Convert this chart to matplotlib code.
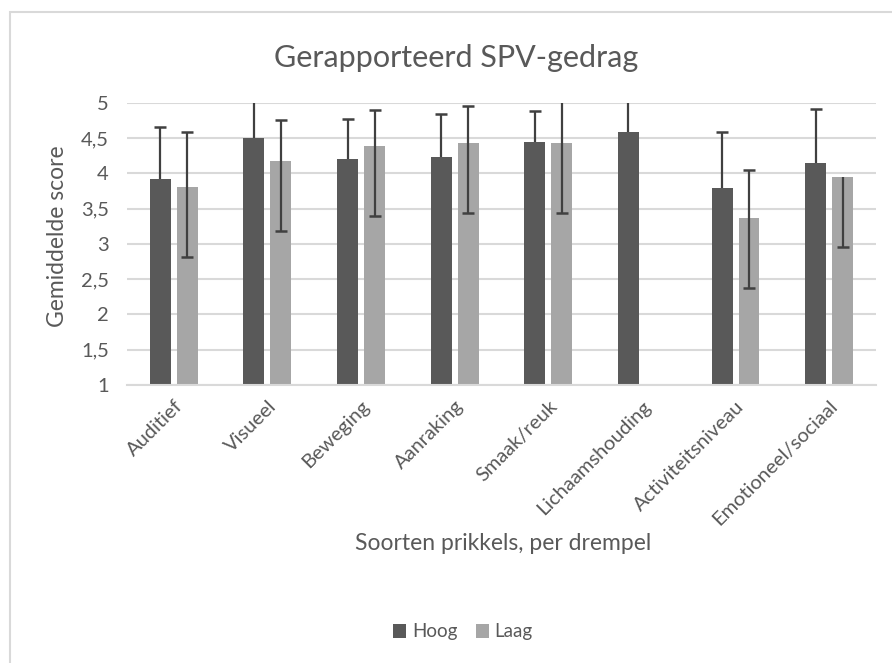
import numpy as np
import matplotlib.pyplot as plt
from matplotlib.patches import Rectangle

# categories and values
categories = ['Auditief', 'Visueel', 'Beweging', 'Aanraking', 'Smaak/reuk',
              'Lichaamshouding', 'Activiteitsniveau', 'Emotioneel/sociaal']
hoog = [3.92, 4.50, 4.21, 4.23, 4.45, 4.58, 3.79, 4.14]
laag = [3.81, 4.18, 4.39, 4.43, 4.43, np.nan, 3.37, 3.95]
hoog_err_up = [0.74, 0.60, 0.56, 0.61, 0.44, 0.60, 0.80, 0.77]
hoog_err_down = [0, 0, 0, 0, 0, 0, 0, 0]
laag_err_up = [0.77, 0.58, 0.51, 0.52, 0.60, 0.0, 0.68, 0.0]
laag_err_down = [1.00, 1.00, 1.00, 0.99, 0.99, 0.0, 1.00, 0.99]
yticks = [1, 1.5, 2, 2.5, 3, 3.5, 4, 4.5, 5]

txt = '#595959'
plt.rcParams['font.family'] = ['Lato', 'DejaVu Sans']

fig = plt.figure(figsize=(8.92, 6.63), dpi=100)
# chart border
fig.patches.append(Rectangle((0.011, -0.05), 1.2, 1.032, transform=fig.transFigure,
                             fill=False, edgecolor='#D9D9D9', linewidth=1.5))

ax = fig.add_axes([0.1424, 0.4193, 0.8396, 0.4256])
x = np.arange(len(categories))
w = 0.224
off = 0.144

ax.bar(x - off, hoog, w, color='#595959', zorder=2, label='Hoog')
ax.bar(x + off, laag, w, color='#A6A6A6', zorder=2, label='Laag')


def draw_err(xs, ys, up, down):
    # error bars drawn by hand so a zero-length side gets no cap
    ys = np.array(ys, dtype=float)
    up = np.array(up, dtype=float)
    down = np.array(down, dtype=float)
    ok = ~np.isnan(ys)
    xs, ys, up, down = xs[ok], ys[ok], up[ok], down[ok]
    ax.vlines(xs, ys - down, ys + up, color='#404040', linewidth=1.6, zorder=3)
    for sel, yy in [(up > 0, ys + up), (down > 0, ys - down)]:
        ax.plot(xs[sel], yy[sel], linestyle='none', marker='_', markersize=8,
                markeredgewidth=1.8, color='#404040', zorder=3)


draw_err(x - off, hoog, hoog_err_up, hoog_err_down)
draw_err(x + off, laag, laag_err_up, laag_err_down)

ax.set_xlim(-0.5, len(categories) - 0.5)
ax.set_ylim(1, 5)
ax.set_yticks(yticks)
ax.set_yticklabels([str(v).replace('.', ',').replace(',0', '') for v in yticks])
ax.yaxis.grid(True, color='#D9D9D9', linewidth=1.5, zorder=0)
ax.set_axisbelow(True)
for s in ['top', 'right', 'left']:
    ax.spines[s].set_visible(False)
ax.spines['bottom'].set_color('#D9D9D9')
ax.spines['bottom'].set_linewidth(1.5)
ax.tick_params(axis='both', length=0, labelsize=14.5, colors=txt)
ax.tick_params(axis='y', pad=13)
ax.set_xticks(x)
ax.set_xticklabels(categories, rotation=45, ha='right', rotation_mode='anchor')
ax.tick_params(axis='x', pad=9)

fig.text(456 / 892, 1 - 58 / 663, 'Gerapporteerd SPV-gedrag', ha='center', va='center',
         fontsize=22, color=txt)
fig.text(57 / 892, 1 - 236 / 663, 'Gemiddelde score', rotation=90, ha='center',
         va='center', fontsize=16.5, color=txt)
fig.text(503 / 892, 1 - 543 / 663, 'Soorten prikkels, per drempel', ha='center',
         va='center', fontsize=16.5, color=txt)

fig.legend(loc='center', bbox_to_anchor=(463 / 892, 1 - 632 / 663), ncol=2, frameon=False,
           fontsize=13.5, labelcolor=txt, handlelength=0.7, handleheight=0.7,
           handletextpad=0.3, columnspacing=1.0)

fig.savefig('out.png', dpi=100)
